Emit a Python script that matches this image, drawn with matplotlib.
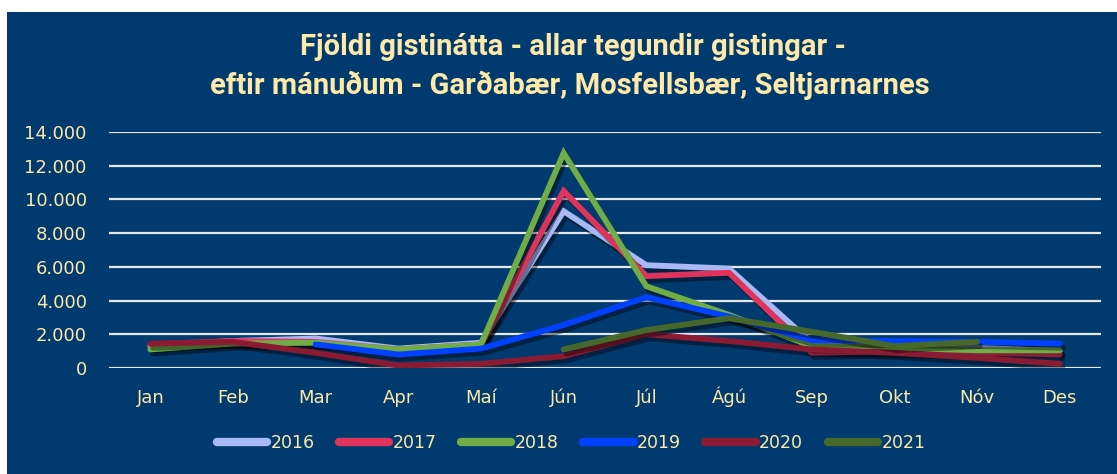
import numpy as np
import matplotlib.pyplot as plt
import matplotlib.patheffects as pe
from matplotlib.patches import Rectangle
from matplotlib.ticker import FuncFormatter

months = ['Jan', 'Feb', 'Mar', 'Apr', 'Maí', 'Jún', 'Júl', 'Ágú', 'Sep', 'Okt', 'Nóv', 'Des']
nan = np.nan
y2016 = [1300, 1600, 1750, 1150, 1500, 9300, 6100, 5900, 1500, 1250, 1200, 1000]
y2017 = [1400, 1600, 1550, 1100, 1400, 10500, 5450, 5650, 900, 1000, 900, 800]
y2018 = [1100, 1450, 1500, 1100, 1400, 12750, 4850, 3150, 1300, 1200, 1050, 1050]
y2019 = [nan, nan, 1400, 800, 1150, 2550, 4200, 3050, 1650, 1600, 1550, 1450]
y2020 = [1450, 1550, 900, 150, 250, 700, 2000, 1600, 1100, 900, 600, 250]
y2021 = [nan, nan, nan, nan, nan, 1100, 2250, 2950, 2150, 1300, 1550, nan]

series = [('2016', y2016, '#A9B9F5'), ('2017', y2017, '#E0335B'),
          ('2018', y2018, '#70AD47'), ('2019', y2019, '#0040FF'),
          ('2020', y2020, '#8B1A33'), ('2021', y2021, '#46692B')]

navy = '#003A6E'
cream = '#FFE9A6'

fig = plt.figure(figsize=(11.17, 4.74), dpi=100, facecolor='white')
fig.patches.append(Rectangle((7 / 1117, 0), 1, 1 - 12 / 474, transform=fig.transFigure,
                             facecolor=navy, edgecolor='none', zorder=-10))

ax = fig.add_axes([109 / 1117, 1 - 368 / 474, (1101 - 109) / 1117, (368 - 132) / 474])
ax.set_facecolor(navy)
x = np.arange(len(months))
for name, vals, col in series:
    ax.plot(x, vals, color=col, lw=4.2, solid_capstyle='round', solid_joinstyle='miter',
            label=name, path_effects=[pe.SimpleLineShadow(offset=(2, -3), shadow_color='black', alpha=0.4),
                                      pe.Normal()])

ax.set_xlim(-0.5, 11.5)
ax.set_ylim(0, 14000)
ax.set_yticks(range(0, 14001, 2000))
ax.yaxis.set_major_formatter(FuncFormatter(lambda v, p: f'{int(v):,}'.replace(',', '.')))
ax.set_xticks(x)
ax.set_xticklabels(months)
ax.grid(axis='y', color='#E8E8E8', lw=1.6)
ax.set_axisbelow(True)
for s in ax.spines.values():
    s.set_visible(False)
ax.tick_params(length=0, colors=cream, labelsize=13)
ax.tick_params(axis='x', pad=25)
ax.tick_params(axis='y', pad=16)
for lbl in ax.get_xticklabels() + ax.get_yticklabels():
    lbl.set_fontfamily('DejaVu Sans')
    lbl.set_color(cream)
for lbl in ax.get_xticklabels():
    lbl.set_verticalalignment('baseline')

fig.text(0.513, 1 - 47 / 474, 'Fjöldi gistinátta - allar tegundir gistingar -', ha='center', va='center',
         color=cream, fontsize=21, fontweight='bold', family='Roboto')
fig.text(0.51, 1 - 85 / 474, 'eftir mánuðum - Garðabær, Mosfellsbær, Seltjarnarnes', ha='center', va='center',
         color=cream, fontsize=21, fontweight='bold', family='Roboto')

leg = fig.legend(loc='center', bbox_to_anchor=(571 / 1117, 1 - 443 / 474), ncol=6, frameon=False,
                 handlelength=2.9, handletextpad=0.2, columnspacing=1.4,
                 prop={'family': 'DejaVu Sans', 'size': 12.5})
for t in leg.get_texts():
    t.set_color(cream)
for h in leg.get_lines():
    h.set_linewidth(6)
    h.set_path_effects([])

fig.savefig('out.png', dpi=100, facecolor='white')
